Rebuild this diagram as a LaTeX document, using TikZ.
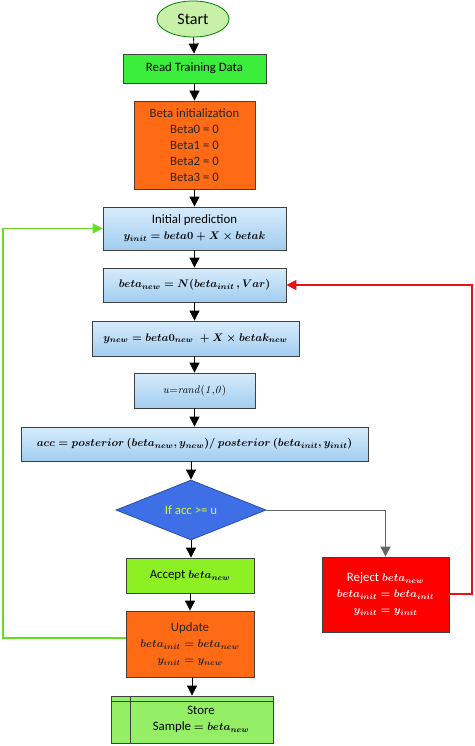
\documentclass[tikz,border=0pt]{standalone}
\usepackage[no-math]{fontspec}
\setmainfont{Carlito}
\usetikzlibrary{arrows.meta,shapes.geometric}
\definecolor{okgreen}{HTML}{3CEE3C}
\definecolor{startfill}{HTML}{C8F0A8}
\definecolor{orangefill}{HTML}{FF6A14}
\definecolor{bluetop}{HTML}{D6ECFB}
\definecolor{bluebot}{HTML}{A2CDF0}
\definecolor{diamfill}{HTML}{3F6FE6}
\definecolor{diamtext}{HTML}{DDF530}
\definecolor{acceptfill}{HTML}{8CF022}
\definecolor{storefill}{HTML}{94EE66}
\definecolor{loopgreen}{HTML}{66DD22}
\definecolor{loopred}{HTML}{EE1111}
\newcommand{\mth}[1]{{\fontsize{11}{16}\selectfont$#1$}}
\tikzset{
  base/.style={draw=black!75, line width=0.8pt, align=center, inner sep=2pt,
    font=\fontsize{12.8}{16}\selectfont\boldmath},
  greenbox/.style={base, fill=okgreen},
  orangebox/.style={base, fill=orangefill, text=black!85},
  bluebox/.style={base, top color=bluetop, bottom color=bluebot},
  flow/.style={-{Triangle[width=10pt,length=10pt]}, line width=0.8pt, black},
}
\begin{document}
\begin{tikzpicture}[x=1pt,y=-1pt]
\useasboundingbox (0,0) rectangle (474,746);
\node[base, ellipse, fill=startfill, draw=green!50!black, minimum width=72pt, minimum height=36pt, font=\fontsize{16}{18}\selectfont] (start) at (193,19) {Start};
\node[greenbox, minimum width=143pt, minimum height=29pt] (read) at (194.5,68.5) {Read Training Data};
\node[orangebox, minimum width=121pt, minimum height=88pt] (binit) at (194.5,145) {Beta initialization\\Beta0 = 0\\Beta1 = 0\\Beta2 = 0\\Beta3 = 0};
\node[bluebox, minimum width=183pt, minimum height=43pt] (pred) at (194.5,228.5) {Initial prediction\\\mth{y_{init} = beta0 + X \times betak}};
\node[bluebox, minimum width=183pt, minimum height=34pt] (bnew) at (194.5,285) {\mth{beta_{new} = N(beta_{init}\,, Var)}};
\node[bluebox, minimum width=207pt, minimum height=35pt] (ynew) at (195.5,338.5) {\mth{y_{new} = beta0_{new}\; + X \times betak_{new}}};
\node[bluebox, minimum width=121pt, minimum height=35pt, font=\fontsize{12.8}{16}\selectfont] (urand) at (194.5,390.5) {\mth{\mathit{u{=}rand(1{,}0)}}};
\node[bluebox, minimum width=347pt, minimum height=34pt] (acc) at (194.5,444) {\mth{acc = posterior\ (beta_{new}, y_{new}) /\ posterior\ (beta_{init}, y_{init})}};
\node[base, diamond, aspect=2.5, fill=diamfill, draw=diamfill!70!black, text=diamtext, minimum width=150pt, minimum height=60pt, inner sep=0pt] (dec) at (191,510) {If acc >= u};
\node[base, fill=acceptfill, minimum width=128pt, minimum height=35pt] (accept) at (190,575.5) {Accept \mth{beta_{new}}};
\node[orangebox, minimum width=128pt, minimum height=66pt] (update) at (190,644) {Update\\\mth{beta_{init} = beta_{new}}\\\mth{y_{init} = y_{new}}};
\node[base, fill=storefill, minimum width=162pt, minimum height=47pt] (store) at (192,719.5) {\hspace*{18pt}Store\\\hspace*{18pt}Sample \mth{= beta_{new}}};
\draw[black!75, line width=0.8pt] ([xshift=20pt]store.north west) -- ([xshift=20pt]store.south west);
\draw[black!75, line width=0.8pt] ([yshift=-6pt]store.north west) -- ([yshift=-6pt]store.north east);
\node[base, fill=red, text=white, minimum width=127pt, minimum height=75pt] (reject) at (385.5,594.5) {Reject \mth{beta_{new}}\\\mth{beta_{init} = beta_{init}}\\\mth{y_{init} = y_{init}}};

\draw[flow] (start) -- (read);
\draw[flow] (read) -- (binit);
\draw[flow] (binit) -- (pred);
\draw[flow] (pred) -- (bnew);
\draw[flow] (bnew) -- (ynew.north -| bnew.south);
\draw[flow] (ynew.south -| urand.north) -- (urand);
\draw[flow] (urand) -- (acc);
\draw[flow] (acc.south -| dec.north) -- (dec);
\draw[flow] (dec) -- (accept.north -| dec.south);
\draw[flow] (accept) -- (update);
\draw[flow] (update.south -| store.north) -- (store);
\draw[flow, draw=black!60] (dec.east) -| (reject.north);
\coordinate (rr) at (472,594);
\draw[-{Triangle[width=10pt,length=10pt]}, line width=1.5pt, loopred] (reject.east |- rr) -- (rr) |- (bnew.east);
\coordinate (gl) at (3,638);
\draw[-{Triangle[width=10pt,length=10pt]}, line width=1.5pt, loopgreen] (update.west |- gl) -- (gl) |- (pred.west);
\end{tikzpicture}
\end{document}
